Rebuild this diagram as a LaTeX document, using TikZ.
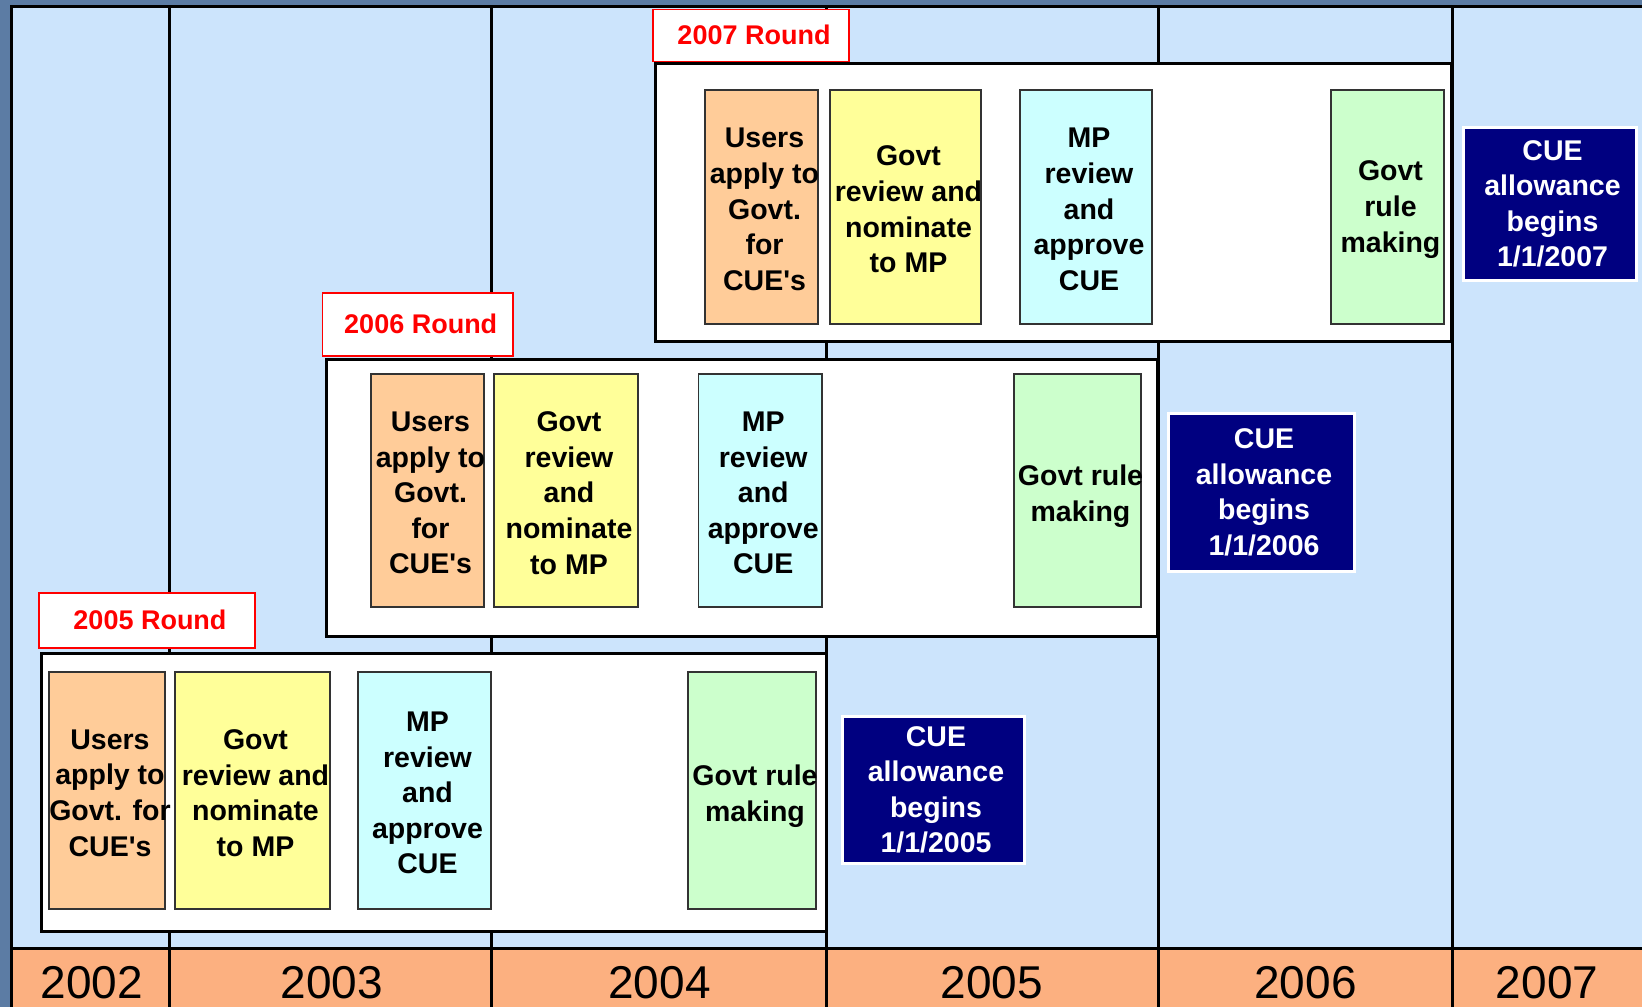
\documentclass[tikz,border=0pt]{standalone}
\usepackage{fontspec}
\setmainfont{Liberation Sans}

\definecolor{slate}{RGB}{92,124,164}
\definecolor{sky}{RGB}{204,228,252}
\definecolor{yearbar}{RGB}{252,176,128}
\definecolor{apply}{RGB}{255,204,153}
\definecolor{nominate}{RGB}{255,255,153}
\definecolor{approve}{RGB}{204,255,255}
\definecolor{rule}{RGB}{204,255,204}
\definecolor{allowance}{RGB}{0,0,128}

\newcommand\boxfont{\fontsize{28.5}{35.6}\selectfont\bfseries}

\begin{document}
\begin{tikzpicture}[x=1pt,y=-1pt,
  frameline/.style={line width=3pt,black},
  stage/.style={draw=black!80,line width=1.3pt,inner sep=0pt},
  stagetext/.style={inner sep=0pt,xshift=3pt,yshift=-2.5pt,align=center,font=\boxfont},
  roundtag/.style={draw=red,fill=white,line width=1.5pt,inner sep=0pt},
  tagtext/.style={inner sep=0pt,xshift=3pt,yshift=0.6pt,text=red,font=\fontsize{27}{30}\selectfont\bfseries},
  roundframe/.style={draw=black,fill=white,line width=3pt,inner sep=0pt},
  begins/.style={draw=white,fill=allowance,line width=3pt,inner sep=0pt},
  beginstext/.style={inner sep=0pt,xshift=3pt,yshift=-0.4pt,align=center,text=white,font=\boxfont},
  year/.style={anchor=base,inner sep=0pt,font=\fontsize{46}{46}\selectfont}]
\useasboundingbox (0,0) rectangle (1642,1007);

% box from corner to corner: name, box style, text style, x1, y1, x2, y2, text
\newcommand\cornerbox[8]{
  \node[#2,minimum width=#6-#4,minimum height=#7-#5] (#1) at ({(#4+#6)/2},{(#5+#7)/2}) {};
  \node[#3] (#1-t) at (#1.center) {#8};}

% background and time line
\fill[slate] (0,0) rectangle (1642,1007);
\fill[sky] (11,6) rectangle (1642,948);
\fill[yearbar] (11,948) rectangle (1642,1007);
\foreach \x in {169.6,491,826,1158,1452.5}
  \draw[frameline] (\x,6) -- (\x,1007);
\draw[frameline] (11,1007) -- (11,6) -- (1642,6);
\draw[frameline] (11,948) -- (1642,948);
\foreach \x/\yr in {92/2002,332/2003,659.5/2004,992/2005,1305.5/2006,1547/2007}
  \node[year] (y\yr) at (\x,998) {\yr};

% 2007 round
\cornerbox{frame07}{roundframe}{}{655}{63.5}{1451}{341.5}{}
\cornerbox{tag07}{roundtag}{tagtext}{653}{9.5}{849}{61.5}{2007 Round}
\cornerbox{apply07}{stage,fill=apply}{stagetext}{705}{90}{818}{324}{Users\\apply to\\Govt.\\for\\CUE\textquotesingle s}
\cornerbox{nominate07}{stage,fill=nominate}{stagetext}{830}{90}{981}{324}{Govt\\review and\\nominate\\to MP}
\cornerbox{approve07}{stage,fill=approve}{stagetext}{1020}{90}{1152}{324}{MP\\review\\and\\approve\\CUE}
\cornerbox{rule07}{stage,fill=rule}{stagetext}{1331}{90}{1444}{324}{Govt\\rule\\making}
\cornerbox{begins07}{begins}{beginstext}{1463}{127}{1636}{280}{CUE\\allowance\\begins\\1/1/2007}

% 2006 round
\cornerbox{frame06}{roundframe}{}{326}{359}{1157}{636}{}
\cornerbox{tag06}{roundtag}{tagtext}{322.5}{293}{513}{356}{2006 Round}
\cornerbox{apply06}{stage,fill=apply}{stagetext}{371}{374}{484}{607}{Users\\apply to\\Govt.\\for\\CUE\textquotesingle s}
\cornerbox{nominate06}{stage,fill=nominate}{stagetext}{494}{374}{638}{607}{Govt\\review\\and\\nominate\\to MP}
\cornerbox{approve06}{stage,fill=approve}{stagetext}{698.5}{374}{822}{607}{MP\\review\\and\\approve\\CUE}
\cornerbox{rule06}{stage,fill=rule}{stagetext,yshift=-3pt}{1014}{374}{1141}{607}{Govt rule\\making}
\cornerbox{begins06}{begins}{beginstext}{1168}{413}{1354}{571}{CUE\\allowance\\begins\\1/1/2006}

% 2005 round
\cornerbox{frame05}{roundframe}{}{41}{653}{826}{931}{}
\cornerbox{tag05}{roundtag}{tagtext}{39}{593}{255}{648}{2005 Round}
\cornerbox{apply05}{stage,fill=apply}{stagetext}{49}{672}{165}{909}{Users\\apply to\\Govt. for\\CUE\textquotesingle s}
\cornerbox{nominate05}{stage,fill=nominate}{stagetext}{175}{672}{330}{909}{Govt\\review and\\nominate\\to MP}
\cornerbox{approve05}{stage,fill=approve}{stagetext}{358}{672}{491}{909}{MP\\review\\and\\approve\\CUE}
\cornerbox{rule05}{stage,fill=rule}{stagetext,yshift=-3pt}{688}{672}{816}{909}{Govt rule\\making}
\cornerbox{begins05}{begins}{beginstext}{842}{716}{1024}{863}{CUE\\allowance\\begins\\1/1/2005}
\end{tikzpicture}
\end{document}
